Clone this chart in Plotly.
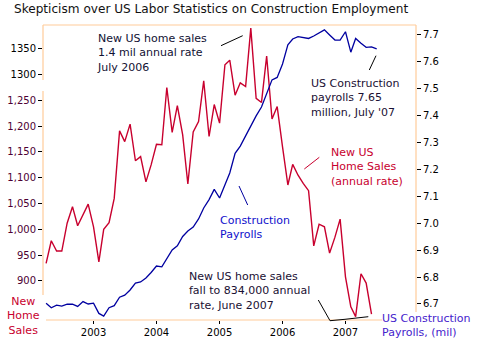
import pandas as pd
import plotly.graph_objects as go

# ---- data ----
sales_start = "2002-04-01"
home_sales = [934, 978, 958, 958, 1012, 1044, 1007, 1028, 1049,
              1005, 937, 1000, 1013, 1060, 1191, 1170, 1204, 1133, 1141, 1092, 1125,
              1165, 1164, 1275, 1188, 1240, 1183, 1088, 1189, 1209, 1288, 1180, 1242,
              1206, 1319, 1328, 1260, 1284, 1277, 1390, 1254, 1246, 1336, 1214, 1238,
              1160, 1086, 1126, 1105, 1089, 1075, 968, 1010, 1005, 954, 985, 1020,
              908, 850, 831, 914, 896, 836]
payroll_start = "2002-04-01"
payrolls = [6.703, 6.686, 6.696, 6.692, 6.699, 6.699, 6.691, 6.709, 6.700,
            6.703, 6.665, 6.655, 6.686, 6.694, 6.725, 6.733, 6.752, 6.778, 6.782, 6.797, 6.817,
            6.841, 6.838, 6.870, 6.901, 6.916, 6.951, 6.971, 6.986, 7.016, 7.057, 7.088, 7.126,
            7.094, 7.144, 7.187, 7.260, 7.287, 7.325, 7.362, 7.399, 7.432, 7.484, 7.533, 7.542,
            7.592, 7.663, 7.685, 7.694, 7.691, 7.687, 7.696, 7.706, 7.719, 7.700, 7.681, 7.681,
            7.712, 7.636, 7.687, 7.669, 7.654, 7.656, 7.648]
left_ticks = [900, 950, 1000, 1050, 1100, 1150, 1200, 1250, 1300, 1350]
left_tick_text = ["900", "950", "1,000", "1,050", "1,100", "1,150", "1,200", "1,250",
                  '<span style="color:#000000">1300</span>',
                  '<span style="color:#000000">1350</span>']
right_ticks = [6.7, 6.8, 6.9, 7.0, 7.1, 7.2, 7.3, 7.4, 7.5, 7.6, 7.7]

sales_dates = pd.date_range(sales_start, periods=len(home_sales), freq="MS")
payroll_dates = pd.date_range(payroll_start, periods=len(payrolls), freq="MS")

FONT = "DejaVu Sans"
RED = "#C8002E"
BLUE = "#0000A0"
FRAME = "#FFCC99"

# plot area in pixels: x 43..416, y 25..320
L, R, T, B = 43, 416, 25, 320
W, H = 480, 360


def px(X):
    return (X - L) / (R - L)


def py(Y):
    return (B - Y) / (B - T)


fig = go.Figure()
fig.add_trace(go.Scatter(x=sales_dates, y=home_sales, mode="lines",
                         line=dict(color=RED, width=1.4), yaxis="y"))
fig.add_trace(go.Scatter(x=payroll_dates, y=payrolls, mode="lines",
                         line=dict(color=BLUE, width=1.3), yaxis="y2"))

fig.update_layout(
    width=W, height=H,
    margin=dict(l=L, r=W - R, t=T, b=H - B, autoexpand=False),
    paper_bgcolor="white", plot_bgcolor="white",
    showlegend=False,
    font=dict(family=FONT, size=10, color="#000000"),
    title=dict(text="Skepticism over US Labor Statistics on Construction Employment",
               x=14 / W, xanchor="left", y=1 - 8.5 / H, yanchor="middle",
               font=dict(family=FONT, size=12.1, color="#111111")),
    xaxis=dict(type="date", range=["2002-03-14", "2008-02-14"],
               tickvals=pd.date_range("2003-01-01", periods=5, freq="YS"),
               tickformat="%Y", ticks="outside", ticklen=3, tickcolor="#000000",
               showgrid=False, zeroline=False, showline=False, automargin=False,
               tickfont=dict(family=FONT, size=10, color="#000000")),
    yaxis=dict(range=[824.4, 1396.1], tickvals=left_ticks, ticktext=left_tick_text,
               ticks="outside", ticklen=4, tickcolor="#000000",
               showgrid=False, zeroline=False, showline=False, automargin=False,
               tickfont=dict(family=FONT, size=10, color="#4d0033")),
    yaxis2=dict(range=[6.6405, 7.737], overlaying="y", side="right",
                tickvals=right_ticks, tickformat=".1f",
                ticks="outside", ticklen=4, tickcolor="#000000",
                showgrid=False, zeroline=False, showline=False, automargin=False,
                tickfont=dict(family=FONT, size=10, color="#000000")),
)

# frame segments
frame = [
    ((L, T), (R, T)),
    ((L, T), (L, 80)),
    ((L, 91), (L, 295)),
    ((46, B), (382, B)),
    ((R, T), (R, 312)),
]
for (x0, y0), (x1, y1) in frame:
    fig.add_shape(type="line", xref="paper", yref="paper",
                  x0=px(x0), y0=py(y0), x1=px(x1), y1=py(y1),
                  line=dict(color=FRAME, width=1.2))

# pointer lines
pointers = [
    ([(221, 45.7), (242.7, 35.7)], "#000000"),
    ([(369.3, 70), (376, 55.7)], "#000000"),
    ([(304.3, 169), (319.3, 157.3)], RED),
    ([(239, 186), (247.7, 205)], BLUE),
    ([(318.3, 300), (330, 320.7), (345, 319.3), (368.3, 316.7)], "#000000"),
]
for pts, col in pointers:
    for (x0, y0), (x1, y1) in zip(pts[:-1], pts[1:]):
        fig.add_shape(type="line", xref="paper", yref="paper",
                      x0=px(x0), y0=py(y0), x1=px(x1), y1=py(y1),
                      line=dict(color=col, width=1))

# text labels
labels = [
    ("New US home sales<br>1.4 mil annual rate<br>July 2006", 96, 53.3, "left", "#111133"),
    ("US Construction<br>payrolls 7.65<br>million, July '07", 310, 98, "left", "#1a1033"),
    ("New US<br>Home Sales<br>(annual rate)", 330, 166.7, "left", RED),
    ("Construction<br>Payrolls", 219, 227.5, "left", "#1010CC"),
    ("New US home sales<br>fall to 834,000 annual<br>rate, June 2007", 187.5, 291, "left", "#1a1033"),
    ("New<br>Home<br>Sales", 23, 315.5, "center", RED),
    ("US Construction<br>Payrolls, (mil)", 381, 326, "left", "#4422CC"),
]
for text, X, Y, al, col in labels:
    fig.add_annotation(text=text, xref="paper", yref="paper",
                       x=px(X), y=py(Y),
                       xanchor="center" if al == "center" else "left",
                       yanchor="middle", align=al, showarrow=False,
                       borderpad=0,
                       font=dict(family=FONT, size=11, color=col))

fig.write_html("out.html",
               config={"displayModeBar": False},
               post_script="document.body.style.margin='0px';document.body.style.padding='0px';")
